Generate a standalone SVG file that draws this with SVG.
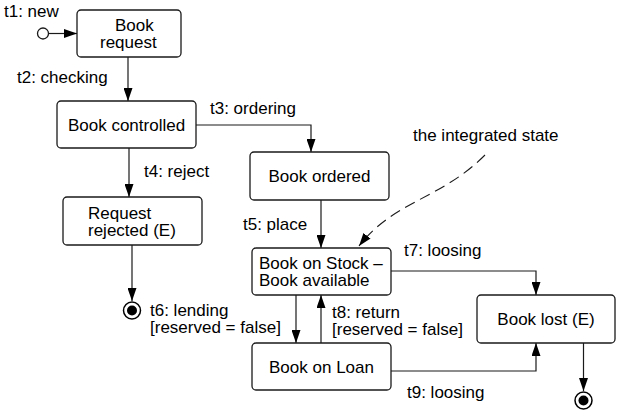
<svg xmlns="http://www.w3.org/2000/svg" width="620" height="417" viewBox="0 0 620 417">
  <defs>
    <marker id="arrow" viewBox="0 0 13 9" refX="13" refY="4.5" markerWidth="13" markerHeight="9" markerUnits="userSpaceOnUse" orient="auto">
      <path d="M0,0 L13,4.5 L0,9 Z" fill="#000"/>
    </marker>
    <style>
      .box { fill: #fff; stroke: #1a1a1a; stroke-width: 1.3; }
      .edge { fill: none; stroke: #1a1a1a; stroke-width: 1.2; marker-end: url(#arrow); }
      .note { fill: none; stroke: #1a1a1a; stroke-width: 1.1; stroke-dasharray: 11 6; marker-end: url(#arrow); }
      text { font-family: "Liberation Sans", Arial, sans-serif; font-size: 17px; fill: #000; }
      .c { text-anchor: middle; }
      .start { fill: #fff; stroke: #1a1a1a; stroke-width: 1.3; }
      .final { fill: #fff; stroke: #000; stroke-width: 1.5; }
    </style>
  </defs>

  <!-- transitions -->
  <g id="connectors">
    <line class="edge" x1="49" y1="33.5" x2="77" y2="33.5"/>
    <line class="edge" x1="128" y1="57" x2="128" y2="101"/>
    <polyline class="edge" points="196,125 311,125 311,152"/>
    <line class="edge" x1="129" y1="148" x2="129" y2="197"/>
    <line class="edge" x1="132" y1="245" x2="132" y2="301"/>
    <line class="edge" x1="321" y1="200" x2="321" y2="248"/>
    <polyline class="edge" points="391,271 536,271 536,295"/>
    <line class="edge" x1="296" y1="295" x2="296" y2="343"/>
    <line class="edge" x1="321" y1="343" x2="321" y2="295"/>
    <polyline class="edge" points="391,371 536,371 536,343"/>
    <line class="edge" x1="583.5" y1="343" x2="583.5" y2="391"/>
    <path class="note" d="M485,155 C440,200 395,200 359,246"/>
  </g>

  <!-- transition labels -->
  <g id="labels">
    <text x="4" y="17">t1: new</text>
    <text x="17" y="83">t2: checking</text>
    <text x="210" y="114">t3: ordering</text>
    <text x="144" y="177">t4: reject</text>
    <text x="243" y="230">t5: place</text>
    <text x="150" y="316">t6: lending</text>
    <text x="150" y="333">[reserved = false]</text>
    <text x="404" y="256">t7: loosing</text>
    <text x="332" y="318">t8: return</text>
    <text x="332" y="335">[reserved = false]</text>
    <text x="407" y="398">t9: loosing</text>
    <text x="413" y="141">the integrated state</text>
  </g>

  <g id="initial">
    <circle class="start" cx="43" cy="33.5" r="5.5"/>
  </g>

  <g id="book-request">
    <rect class="box" x="77" y="10" width="104" height="47" rx="4"/>
    <text x="115" y="30.5">Book</text>
    <text x="100" y="47.5">request</text>
  </g>

  <g id="book-controlled">
    <rect class="box" x="57" y="101" width="139" height="47" rx="4"/>
    <text class="c" x="126.5" y="131">Book controlled</text>
  </g>

  <g id="book-ordered">
    <rect class="box" x="250" y="152" width="139" height="48" rx="4"/>
    <text class="c" x="319.5" y="182">Book ordered</text>
  </g>

  <g id="request-rejected">
    <rect class="box" x="63" y="197" width="139" height="48" rx="4"/>
    <text x="88" y="218.5">Request</text>
    <text x="88" y="235.5">rejected (E)</text>
  </g>

  <g id="final-rejected">
    <circle class="final" cx="132" cy="310.5" r="8.5"/>
    <circle cx="132" cy="310.5" r="5" fill="#000"/>
  </g>

  <g id="book-on-stock">
    <rect class="box" x="252" y="248" width="139" height="47" rx="4"/>
    <text x="259" y="269">Book on Stock –</text>
    <text x="259" y="286">Book available</text>
  </g>

  <g id="book-lost">
    <rect class="box" x="477" y="295" width="138" height="48" rx="4"/>
    <text class="c" x="546" y="325">Book lost (E)</text>
  </g>

  <g id="book-on-loan">
    <rect class="box" x="252" y="343" width="139" height="47" rx="4"/>
    <text class="c" x="321.5" y="373">Book on Loan</text>
  </g>

  <g id="final-lost">
    <circle class="final" cx="583.5" cy="400.5" r="8.5"/>
    <circle cx="583.5" cy="400.5" r="5" fill="#000"/>
  </g>
</svg>
